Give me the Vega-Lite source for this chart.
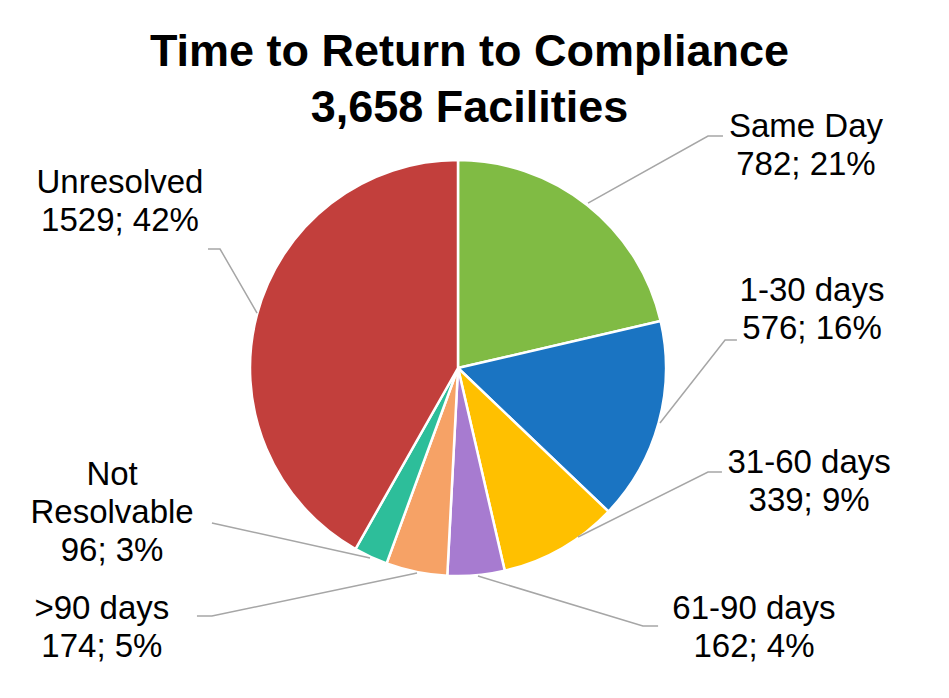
{
  "$schema": "https://vega.github.io/schema/vega-lite/v6.json",
  "width": 949,
  "height": 698,
  "padding": 0,
  "autosize": {"type": "none"},
  "background": "white",
  "config": {"view": {"stroke": null}},
  "title": {
    "text": ["Time to Return to Compliance", "3,658 Facilities"],
    "font": "Liberation Sans",
    "fontSize": 45,
    "fontWeight": "bold",
    "color": "#000000",
    "lineHeight": 56,
    "anchor": "middle",
    "dx": -5,
    "offset": -131
  },
  "datasets": {
    "slices": [
      {"category": "Same Day", "facilities": 782, "rank": 1},
      {"category": "1-30 days", "facilities": 576, "rank": 2},
      {"category": "31-60 days", "facilities": 339, "rank": 3},
      {"category": "61-90 days", "facilities": 162, "rank": 4},
      {"category": ">90 days", "facilities": 174, "rank": 5},
      {"category": "Not Resolvable", "facilities": 96, "rank": 6},
      {"category": "Unresolved", "facilities": 1529, "rank": 7}
    ],
    "leaders": [
      {"category": "Same Day", "step": 1, "u": 0.625, "v": 0.793},
      {"category": "Same Day", "step": 2, "u": 1.202, "v": 1.115},
      {"category": "Same Day", "step": 3, "u": 1.274, "v": 1.115},
      {"category": "1-30 days", "step": 1, "u": 0.971, "v": -0.264},
      {"category": "1-30 days", "step": 2, "u": 1.284, "v": 0.135},
      {"category": "1-30 days", "step": 3, "u": 1.341, "v": 0.135},
      {"category": "31-60 days", "step": 1, "u": 0.577, "v": -0.8125},
      {"category": "31-60 days", "step": 2, "u": 1.202, "v": -0.5},
      {"category": "31-60 days", "step": 3, "u": 1.269, "v": -0.5},
      {"category": "61-90 days", "step": 1, "u": 0.096, "v": -1.0},
      {"category": "61-90 days", "step": 2, "u": 0.889, "v": -1.24},
      {"category": "61-90 days", "step": 3, "u": 0.962, "v": -1.24},
      {"category": ">90 days", "step": 1, "u": -0.197, "v": -0.986},
      {"category": ">90 days", "step": 2, "u": -1.183, "v": -1.192},
      {"category": ">90 days", "step": 3, "u": -1.255, "v": -1.192},
      {"category": "Not Resolvable", "step": 1, "u": -0.423, "v": -0.913},
      {"category": "Not Resolvable", "step": 2, "u": -1.183, "v": -0.745},
      {"category": "Unresolved", "step": 1, "u": -0.966, "v": 0.264},
      {"category": "Unresolved", "step": 2, "u": -1.144, "v": 0.572},
      {"category": "Unresolved", "step": 3, "u": -1.202, "v": 0.572}
    ],
    "labels": [
      {"category": "Same Day", "label": "Same Day\n782; 21%", "u": 1.673, "v": 1.161},
      {"category": "1-30 days", "label": "1-30 days\n576; 16%", "u": 1.702, "v": 0.368},
      {"category": "31-60 days", "label": "31-60 days\n339; 9%", "u": 1.688, "v": -0.457},
      {"category": "61-90 days", "label": "61-90 days\n162; 4%", "u": 1.423, "v": -1.159},
      {"category": ">90 days", "label": ">90 days\n174; 5%", "u": -1.712, "v": -1.159},
      {"category": "Not Resolvable", "label": "Not\nResolvable\n96; 3%", "u": -1.663, "v": -0.514},
      {"category": "Unresolved", "label": "Unresolved\n1529; 42%", "u": -1.625, "v": 0.889}
    ]
  },
  "layer": [
    {
      "data": {"name": "slices"},
      "mark": {"type": "arc", "outerRadius": 208, "stroke": "white", "strokeWidth": 2.5},
      "encoding": {
        "theta": {"field": "facilities", "type": "quantitative", "stack": true},
        "order": {"field": "rank", "type": "quantitative"},
        "color": {
          "field": "category",
          "type": "nominal",
          "legend": null,
          "scale": {
            "domain": ["Same Day", "1-30 days", "31-60 days", "61-90 days", ">90 days", "Not Resolvable", "Unresolved"],
            "range": ["#80BB44", "#1A74C2", "#FFC000", "#A77BD0", "#F6A266", "#2DBE9A", "#C23F3C"]
          }
        },
        "x": {"datum": 0, "type": "quantitative", "axis": null, "scale": {"domain": [-2.2019, 2.3606], "nice": false, "zero": false}},
        "y": {"datum": 0, "type": "quantitative", "axis": null, "scale": {"domain": [-1.5865, 1.7692], "nice": false, "zero": false}}
      }
    },
    {
      "data": {"name": "leaders"},
      "mark": {"type": "line", "color": "#A6A6A6", "strokeWidth": 1.5},
      "encoding": {
        "x": {"field": "u", "type": "quantitative"},
        "y": {"field": "v", "type": "quantitative"},
        "detail": {"field": "category", "type": "nominal"},
        "order": {"field": "step", "type": "quantitative"}
      }
    },
    {
      "data": {"name": "labels"},
      "mark": {"type": "text", "font": "Liberation Sans", "fontSize": 33, "lineHeight": 38, "lineBreak": "\n", "align": "center", "baseline": "middle", "color": "#000000"},
      "encoding": {
        "x": {"field": "u", "type": "quantitative"},
        "y": {"field": "v", "type": "quantitative"},
        "text": {"field": "label", "type": "nominal"}
      }
    }
  ]
}
